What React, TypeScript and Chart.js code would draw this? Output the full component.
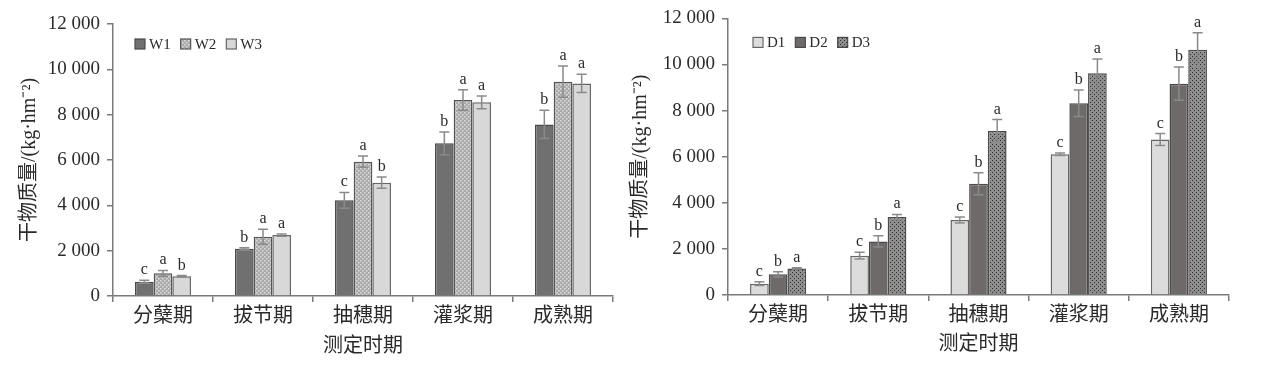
import { useEffect, useRef } from 'react';
import { Chart, registerables } from 'chart.js';
Chart.register(...registerables);

const categories = ['分蘖期', '拔节期', '抽穗期', '灌浆期', '成熟期'];

const W1 = [630, 2090, 4220, 6735, 7570];
const W2 = [1000, 2615, 5925, 8645, 9455];
const W3 = [870, 2690, 5000, 8545, 9380];
const W1err = [60, 40, 350, 500, 620];
const W2err = [130, 330, 250, 450, 690];
const W3err = [30, 50, 250, 280, 400];
const W1letters = ['c', 'b', 'c', 'b', 'b'];
const W2letters = ['a', 'a', 'a', 'a', 'a'];
const W3letters = ['b', 'a', 'b', 'a', 'a'];

const D1 = [490, 1705, 3250, 6110, 6745];
const D2 = [895, 2325, 4825, 8320, 9170];
const D3 = [1155, 3380, 7120, 9620, 10645];
const D1err = [80, 145, 130, 55, 260];
const D2err = [115, 245, 475, 575, 720];
const D3err = [30, 115, 490, 620, 735];
const D1letters = ['c', 'c', 'c', 'c', 'c'];
const D2letters = ['b', 'b', 'b', 'b', 'b'];
const D3letters = ['a', 'a', 'a', 'a', 'a'];

const yTickValues = [0, 2000, 4000, 6000, 8000, 10000, 12000];
const yTitle = '干物质量/(kg·hm⁻²)';
const xTitle = '测定时期';

const FAMILY = '"Liberation Serif", "Times New Roman", "Noto Sans CJK SC", serif';
const AXIS = '#7a7a7a';
const TEXT = '#2a2a2a';

function makePattern(base: string, dot: string, dark: boolean) {
  const c = document.createElement('canvas');
  c.width = 4;
  c.height = 4;
  const g = c.getContext('2d')!;
  g.fillStyle = base;
  g.fillRect(0, 0, 4, 4);
  g.fillStyle = dot;
  if (dark) {
    g.fillRect(0, 0, 1, 1);
    g.fillRect(2, 2, 1, 1);
  } else {
    g.fillRect(0, 0, 1.5, 1.5);
    g.fillRect(2, 2, 1.5, 1.5);
  }
  return g.createPattern(c, 'repeat')!;
}

function fmt(v: number) {
  const s = String(v);
  if (v >= 1000) return s.slice(0, s.length - 3) + ' ' + s.slice(s.length - 3);
  return s;
}

type Series = { name: string; values: number[]; errs: number[]; letters: string[]; fill: any; border: string };

const decorPlugin = {
  id: 'decor',
  afterDatasetsDraw(chart: any, _args: any, opts: any) {
    const ctx = chart.ctx as CanvasRenderingContext2D;
    const y = chart.scales.y;
    const series: Series[] = opts.series;
    ctx.save();
    series.forEach((s, di) => {
      const meta = chart.getDatasetMeta(di);
      meta.data.forEach((bar: any, i: number) => {
        const x = bar.x;
        const hi = y.getPixelForValue(s.values[i] + s.errs[i]);
        const lo = y.getPixelForValue(s.values[i] - s.errs[i]);
        ctx.strokeStyle = '#8a8a8a';
        ctx.lineWidth = 1.5;
        ctx.beginPath();
        ctx.moveTo(x, hi);
        ctx.lineTo(x, lo);
        ctx.moveTo(x - 5, hi);
        ctx.lineTo(x + 5, hi);
        ctx.moveTo(x - 5, lo);
        ctx.lineTo(x + 5, lo);
        ctx.stroke();
        ctx.fillStyle = TEXT;
        ctx.font = '16px ' + FAMILY;
        ctx.textAlign = 'center';
        ctx.textBaseline = 'alphabetic';
        ctx.fillText(s.letters[i], x, hi - 6);
      });
    });
    // legend
    const area = chart.chartArea;
    let lx = area.left + opts.legendDx;
    const ly = area.top + opts.legendDy;
    ctx.font = '15px ' + FAMILY;
    ctx.textAlign = 'left';
    ctx.textBaseline = 'middle';
    series.forEach((s) => {
      ctx.fillStyle = s.fill;
      ctx.fillRect(lx, ly - 5, 10, 10);
      ctx.strokeStyle = s.border;
      ctx.lineWidth = 1.2;
      ctx.strokeRect(lx, ly - 5, 10, 10);
      ctx.fillStyle = TEXT;
      ctx.fillText(s.name, lx + 14, ly + 1);
      lx += 14 + ctx.measureText(s.name).width + 10;
    });
    ctx.restore();
  },
};

function buildConfig(series: Series[], p: { top: number; right: number; yTitlePad: number; xTitlePad: number; axisW: number; legendDx: number; legendDy: number }) {
  return {
    type: 'bar' as const,
    data: {
      labels: categories,
      datasets: series.map((s) => ({
        label: s.name,
        data: s.values,
        backgroundColor: s.fill,
        borderColor: s.border,
        borderWidth: 1.5,
        categoryPercentage: 0.56,
        barPercentage: 1,
      })),
    },
    options: {
      responsive: false,
      animation: false as const,
      layout: { padding: { top: p.top, right: p.right, left: 0, bottom: 0 } },
      plugins: {
        legend: { display: false },
        tooltip: { enabled: false },
        decor: { series, legendDx: p.legendDx, legendDy: p.legendDy },
      },
      scales: {
        x: {
          offset: true,
          grid: { display: true, drawOnChartArea: false, offset: true, tickLength: 6, color: AXIS, lineWidth: 1.5 },
          border: { color: AXIS, width: 1.5 },
          ticks: { color: TEXT, font: { family: FAMILY, size: 20 }, padding: 3, maxRotation: 0 },
          title: { display: true, text: xTitle, color: TEXT, font: { family: FAMILY, size: 20 }, padding: { top: 0, bottom: p.xTitlePad } },
          afterFit: (s: any) => {
            s.height = 368 - (368 - 72) - 0 + (p.top === 24 ? 0 : 1);
          },
        },
        y: {
          min: 0,
          max: 12000,
          afterBuildTicks: (s: any) => {
            s.ticks = yTickValues.map((v) => ({ value: v }));
          },
          ticks: { color: TEXT, font: { family: FAMILY, size: 19 }, padding: 7, callback: (v: any) => fmt(Number(v)) },
          grid: { display: true, drawOnChartArea: false, tickLength: 6, color: AXIS, lineWidth: 1.5 },
          border: { color: AXIS, width: 1.5 },
          title: { display: true, text: yTitle, color: TEXT, font: { family: FAMILY, size: 20 }, padding: { top: p.yTitlePad, bottom: 0 } },
          afterFit: (s: any) => {
            s.width = p.axisW;
          },
        },
      },
    },
    plugins: [decorPlugin],
  };
}

function BarChart({ left, width, make }: { left: number; width: number; make: () => any }) {
  const ref = useRef<HTMLCanvasElement>(null);
  useEffect(() => {
    const chart = new Chart(ref.current!, make());
    return () => chart.destroy();
  }, []);
  return (
    <canvas
      ref={ref}
      width={width}
      height={368}
      style={{ position: 'absolute', left, top: 0, width, height: 368 }}
    />
  );
}

export default function App() {
  const makeLeft = () => {
    const series: Series[] = [
      { name: 'W1', values: W1, errs: W1err, letters: W1letters, fill: '#707070', border: '#4a4a4a' },
      { name: 'W2', values: W2, errs: W2err, letters: W2letters, fill: makePattern('#aaaaaa', '#dedede', false), border: '#555555' },
      { name: 'W3', values: W3, errs: W3err, letters: W3letters, fill: '#d8d8d8', border: '#666666' },
    ];
    return buildConfig(series, { top: 24, right: 7, yTitlePad: 18, xTitlePad: 9, axisW: 113, legendDx: 22, legendDy: 20 });
  };
  const makeRight = () => {
    const series: Series[] = [
      { name: 'D1', values: D1, errs: D1err, letters: D1letters, fill: '#dcdcdc', border: '#666666' },
      { name: 'D2', values: D2, errs: D2err, letters: D2letters, fill: '#6f6a6a', border: '#4a4a4a' },
      { name: 'D3', values: D3, errs: D3err, letters: D3letters, fill: makePattern('#8e8e8e', '#2e2e2e', true), border: '#4a4a4a' },
    ];
    return buildConfig(series, { top: 18, right: 39, yTitlePad: 9, xTitlePad: 11, axisW: 108, legendDx: 25, legendDy: 24 });
  };
  return (
    <div style={{ position: 'fixed', left: 0, top: 0, width: 1268, height: 368, background: '#fff' }}>
      <BarChart left={0} width={620} make={makeLeft} />
      <BarChart left={620} width={648} make={makeRight} />
    </div>
  );
}
